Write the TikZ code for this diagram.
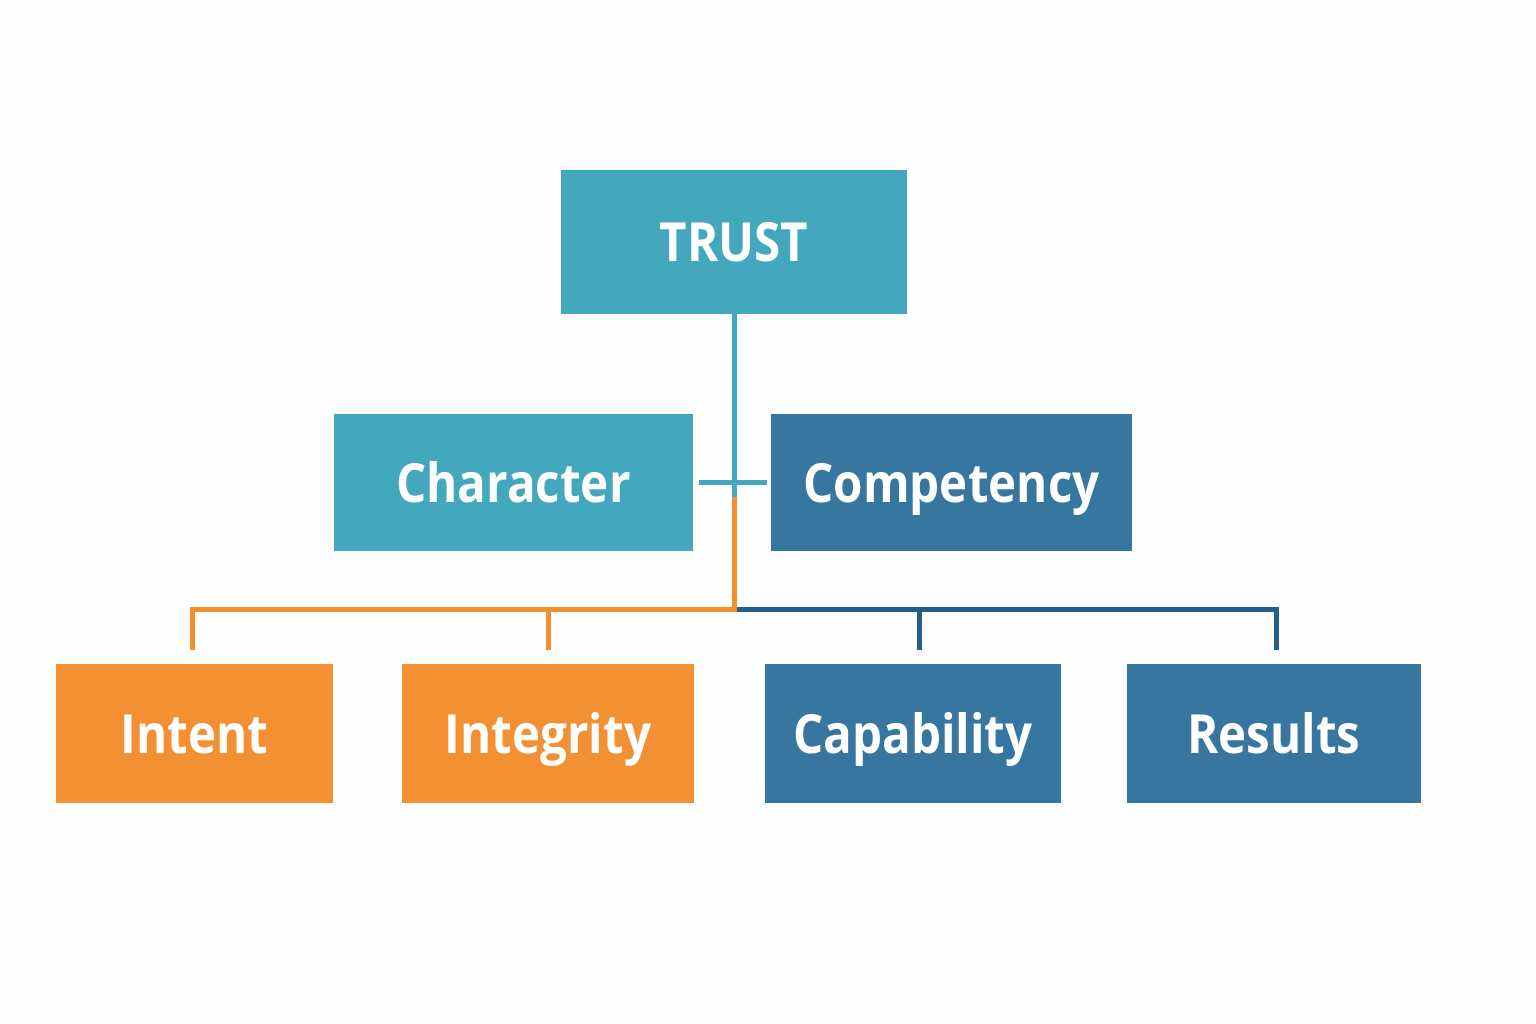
\documentclass[tikz,border=0pt]{standalone}
\usepackage{fontspec}
\setmainfont{Open Sans}[FakeStretch=0.88]
\definecolor{teal}{HTML}{43A7BD}
\definecolor{bluebox}{HTML}{36769F}
\definecolor{orangebox}{HTML}{F39034}
\definecolor{blueline}{HTML}{215F8A}
\definecolor{orangeline}{HTML}{F38F2E}
\definecolor{bg}{HTML}{FDFDFD}
\tikzset{
  box/.style={rectangle, inner sep=0pt, text=white, text height=39pt, text depth=0pt,
    font=\fontsize{54}{60}\selectfont\bfseries},
  tealbox/.style={box, fill=teal},
  bluebx/.style={box, fill=bluebox},
  orangebx/.style={box, fill=orangebox},
  conn/.style={line width=5pt},
}
\begin{document}
\begin{tikzpicture}[x=1pt,y=-1pt]
\fill[bg] (0,0) rectangle (1536,1024);
\useasboundingbox (0,0) rectangle (1536,1024);
\node[tealbox, minimum width=346pt, minimum height=144pt] (trust) at (734,242) {TRUST};
\node[tealbox, minimum width=359pt, minimum height=137pt] (char) at (513.5,482.5) {Character};
\node[bluebx, minimum width=361pt, minimum height=137pt] (comp) at (951.5,482.5) {Competency};
\node[orangebx, minimum width=277pt, minimum height=139pt] (intent) at (194.5,733.5) {Intent};
\node[orangebx, minimum width=292pt, minimum height=139pt] (integ) at (548,733.5) {Integrity};
\node[bluebx, minimum width=296pt, minimum height=139pt] (capab) at (913,733.5) {Capability};
\node[bluebx, minimum width=294pt, minimum height=139pt] (results) at (1274,733.5) {Results};
\coordinate (j2) at (734,497);
\coordinate (j3) at (734,609);
\coordinate (dI) at (192.5,650);
\coordinate (dG) at (548,650);
\coordinate (dC) at (919,650);
\coordinate (dR) at (1276,650);
% teal trunk and crossbar
\draw[conn, teal] (trust.south) -- (j2);
\draw[conn, teal, shorten <=6pt, shorten >=4pt] (char.east) -- (comp.west);
% orange branch
\draw[conn, orangeline] (j2) -- (j3);
\draw[conn, orangeline] ([xshift=2.5pt]j3) -| (dI);
\draw[conn, orangeline] (j3) -| (dG);
% blue branch
\draw[conn, blueline] ([xshift=2.5pt]j3) -| (dR);
\draw[conn, blueline] (j3 -| dC) -- (dC);
\end{tikzpicture}
\end{document}
